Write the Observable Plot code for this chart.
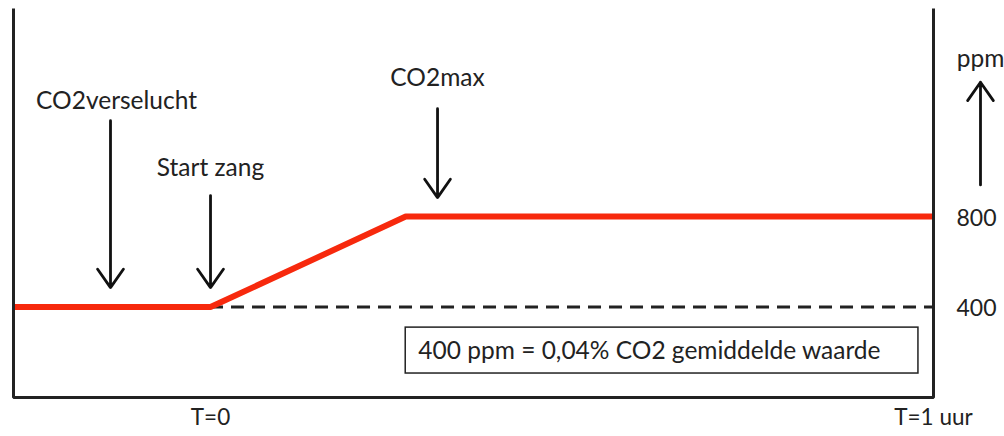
<!DOCTYPE html>
<html>
<head>
<meta charset="utf-8">
<script src="https://cdn.jsdelivr.net/npm/d3@7"></script>
<script src="https://cdn.jsdelivr.net/npm/@observablehq/plot@0.6"></script>
<style>
  html, body { margin: 0; padding: 0; background: #fff; }
  #chart { width: 1004px; height: 436px; }
</style>
</head>
<body>
<div id="chart"></div>
<script>
// Time axis in minutes (T=0 .. T=1 uur = 60 min); left edge of frame before T=0
const timeStart = -16.35;
const timeEnd = 60;
const ppmTop = 1720;

// CO2 course (red line)
const co2Time = [timeStart, 0, 16.2, 60];
const co2Ppm  = [400, 400, 800, 800];

// Reference level (dashed line)
const refPpm = 400;
const refFrom = 0;

// Tick labels
const timeTicks = [0, 60];
const timeTickLabels = ["T=0", "T=1 uur"];
const ppmTicks = [400, 800];

// Annotations (data units: minutes, ppm)
const labelText = ["CO2verselucht", "Start zang", "CO2max", "ppm"];
const labelTime = [-7.8, 0, 18.84, 63.9];
const labelPpm  = [1312, 1015, 1412, 1497];

const arrowTime = [-8.3, 0, 18.84, 63.9];
const arrowFrom = [1224, 893, 1277, 940];
const arrowTo   = [486, 486, 884, 1394];

const noteText = "400 ppm = 0,04% CO2 gemiddelde waarde";
const noteBox = {t1: 16.2, t2: 58.75, p1: 106, p2: 309};
const noteTextTime = 17.25;
const noteTextPpm = 207;

const co2 = co2Time.map((t, i) => ({t, ppm: co2Ppm[i]}));
const frame = [
  {t: timeStart, ppm: ppmTop}, {t: timeStart, ppm: 0},
  {t: timeEnd, ppm: 0}, {t: timeEnd, ppm: ppmTop}
];
const labels = labelText.map((text, i) => ({text, t: labelTime[i], ppm: labelPpm[i]}));
const arrows = arrowTime.map((t, i) => ({t, from: arrowFrom[i], to: arrowTo[i]}));

const ink = "#222";
const chart = Plot.plot({
  width: 1004,
  height: 436,
  marginLeft: 13,
  marginRight: 71,
  marginTop: 8,
  marginBottom: 39,
  x: {domain: [timeStart, timeEnd]},
  y: {domain: [0, ppmTop]},
  style: {fontFamily: "Lato, 'Open Sans', sans-serif", color: ink, background: "#fff", overflow: "visible"},
  marks: [
    Plot.ruleY([refPpm], {x1: refFrom, x2: timeEnd, stroke: ink, strokeWidth: 3, strokeDasharray: "13,8"}),
    Plot.line(co2, {x: "t", y: "ppm", stroke: "#f7290d", strokeWidth: 6, strokeLinejoin: "miter", strokeLinecap: "butt"}),
    Plot.line(frame, {x: "t", y: "ppm", stroke: ink, strokeWidth: 3, strokeLinejoin: "miter", strokeLinecap: "butt"}),
    Plot.arrow(arrows, {x: "t", y1: "from", y2: "to", stroke: "#111", strokeWidth: 2.8, headLength: 12, headAngle: 70}),
    Plot.text(labels, {x: "t", y: "ppm", text: "text", fontSize: 24.5, fill: ink}),
    Plot.rect([noteBox], {x1: "t1", x2: "t2", y1: "p1", y2: "p2", fill: "#fff", stroke: ink, strokeWidth: 1.5}),
    Plot.text([noteText], {x: noteTextTime, y: noteTextPpm, text: d => d, textAnchor: "start", fontSize: 24.5, fill: ink}),
    Plot.axisX(timeTicks, {tickSize: 0, tickPadding: 12, fontSize: 22.5, label: null,
      tickFormat: d => timeTickLabels[timeTicks.indexOf(d)]}),
    Plot.axisY(ppmTicks, {anchor: "right", tickSize: 0, tickPadding: 23, fontSize: 23, dy: 2, label: null})
  ]
});
document.getElementById("chart").appendChild(chart);
</script>
</body>
</html>
